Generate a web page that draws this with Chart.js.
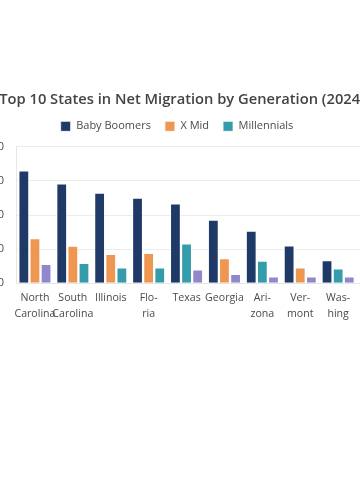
<!DOCTYPE html>
<html>
<head>
<meta charset="utf-8">
<script src="https://cdn.jsdelivr.net/npm/chart.js@4.4.1/dist/chart.umd.min.js"></script>
<style>
  html, body { margin: 0; padding: 0; width: 360px; height: 504px; overflow: hidden; background: #ffffff; }
  #wrap { position: absolute; left: -31.5px; top: 80px; width: 426px; height: 249px; }
</style>
</head>
<body>
<div id="wrap"><canvas id="c"></canvas></div>
<script>
const states = [["North","Carolina"], ["South","Carolina"], "Illinois", ["Flo-","ria"], "Texas", "Georgia", ["Ari-","zona"], ["Ver-","mont"], ["Was-","hing"], ["Ore-","gon"]];
const babyBoomers = [66100, 58500, 53100, 50100, 46800, 37200, 30700, 22100, 13400, 11300];
const xMid        = [26300, 21900, 17100, 17700, null, 14600, null, 9200, null, null];
const millennials = [null, 11800, 9200, 9200, 23300, null, 13100, null, 8600, 8200];
const genZ        = [11300, null, null, null, 8000, 5400, 4000, 4000, 4000, 3800];
const yTicks = [0, 20000, 40000, 60000, 80000];

const FONT = "'Open Sans', 'Noto Sans', sans-serif";
const ds = (label, data, color) => ({
  label, data, backgroundColor: color, borderColor: 'rgba(255,255,255,0.75)', borderWidth: 1,
  borderSkipped: 'bottom', skipNull: true, categoryPercentage: 0.88, barPercentage: 0.97
});

const legendTweak = {
  id: 'legendTweak',
  beforeLayout(chart) {
    const lg = chart.legend;
    if (lg && !lg._tweaked) {
      const origFit = lg.fit.bind(lg);
      lg.fit = function () { origFit(); this.height += 5; };
      const origDraw = lg.draw.bind(lg);
      lg.draw = function () {
        const ctx = this.ctx;
        ctx.save(); ctx.translate(-5, 0); origDraw(); ctx.restore();
      };
      lg._tweaked = true;
    }
  }
};

new Chart(document.getElementById('c'), {
  type: 'bar',
  data: {
    labels: states,
    datasets: [
      ds('Baby Boomers', babyBoomers, '#203a68'),
      ds('X Mid', xMid, '#ef9650'),
      ds('Millennials', millennials, '#349cab'),
      ds('Gen Z', genZ, '#9188cc')
    ]
  },
  plugins: [legendTweak],
  options: {
    responsive: true,
    maintainAspectRatio: false,
    animation: false,
    layout: { padding: 0 },
    plugins: {
      title: {
        display: true,
        text: 'Top 10 States in Net Migration by Generation (2024)',
        color: '#444444',
        font: { family: FONT, size: 14.7, weight: '600' },
        padding: { top: 11.2, bottom: -2 }
      },
      legend: {
        display: true,
        labels: {
          color: '#4a4a4a',
          font: { family: FONT, size: 11 },
          boxWidth: 10, boxHeight: 10, padding: 14,
          filter: (item) => item.text !== 'Gen Z'
        }
      },
      tooltip: { enabled: false }
    },
    scales: {
      x: {
        grid: { display: false, drawTicks: false },
        border: { display: true, color: '#e6e6e6' },
        ticks: { color: '#4a4a4a', font: { family: FONT, size: 10.6, lineHeight: 1.5 }, padding: 7, maxRotation: 0, autoSkip: false }
      },
      y: {
        min: 0, max: 80000,
        afterFit: (axis) => { axis.width = 47; },
        afterBuildTicks: (axis) => { axis.ticks = yTicks.map(v => ({ value: v })); },
        grid: { color: '#ececec', drawTicks: false },
        border: { display: true, color: '#e6e6e6' },
        ticks: { color: '#4a4a4a', font: { family: FONT, size: 11 }, padding: 12,
          callback: (v) => Number(v).toLocaleString('en-US') }
      }
    }
  }
});
</script>
</body>
</html>
